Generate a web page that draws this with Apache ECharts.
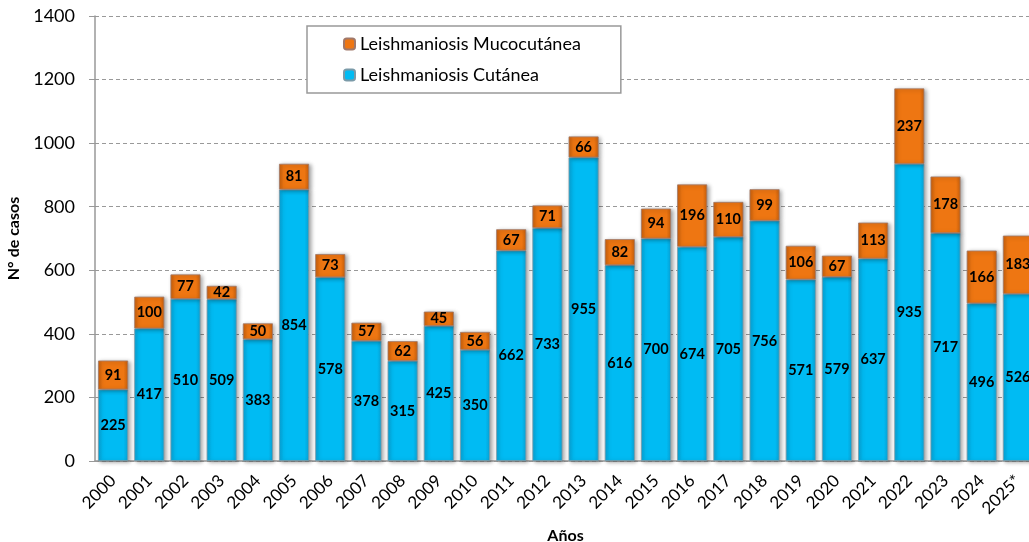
<!DOCTYPE html>
<html>
<head>
<meta charset="utf-8">
<script src="https://cdn.jsdelivr.net/npm/echarts@6/dist/echarts.min.js"></script>
<style>
  html, body { margin: 0; padding: 0; background: #fff; }
  #main { width: 1029px; height: 542px; }
</style>
</head>
<body>
<div id="main"></div>
<script>
    // datos
    var years = ['2000','2001','2002','2003','2004','2005','2006','2007','2008','2009','2010','2011','2012',
                 '2013','2014','2015','2016','2017','2018','2019','2020','2021','2022','2023','2024','2025*'];
    var cutanea = [225,417,510,509,383,854,578,378,315,425,350,662,733,955,616,700,674,705,756,571,579,637,935,717,496,526];
    var mucocutanea = [91,100,77,42,50,81,73,57,62,45,56,67,71,66,82,94,196,110,99,106,67,113,237,178,166,183];
    var yTicks = [0, 200, 400, 600, 800, 1000, 1200, 1400];

    var font = 'Lato, "Open Sans", sans-serif';

    function grad(edge, mid) {
        return new echarts.graphic.LinearGradient(0, 0, 1, 0, [
            {offset: 0, color: edge},
            {offset: 0.15, color: mid},
            {offset: 0.85, color: mid},
            {offset: 1, color: edge}
        ]);
    }

    var myChart = echarts.init(document.getElementById('main'));
    var option = {
        animation: false,
        backgroundColor: '#fff',
        grid: {
            left: 95,
            top: 16,
            width: 941,
            height: 445,
            outerBoundsMode: 'none'
        },
        legend: {
            data: ['Leishmaniosis Mucocutánea', 'Leishmaniosis Cutánea'],
            orient: 'vertical',
            left: 307,
            top: 26,
            padding: [9, 40, 9, 36],
            itemGap: 13,
            itemWidth: 11,
            itemHeight: 11,
            backgroundColor: '#fff',
            borderColor: '#999',
            borderWidth: 1.5,
            textStyle: {fontFamily: font, fontSize: 18, color: '#000'}
        },
        xAxis: {
            type: 'category',
            data: years,
            name: 'Años',
            nameLocation: 'middle',
            nameGap: 67,
            nameTextStyle: {fontFamily: font, fontSize: 16, fontWeight: 'bold', color: '#000'},
            axisLine: {lineStyle: {color: '#999', width: 1.5}},
            axisTick: {show: false},
            axisLabel: {rotate: 45, fontFamily: font, fontSize: 17, color: '#000', margin: 17, interval: 0}
        },
        yAxis: {
            type: 'value',
            min: yTicks[0],
            max: yTicks[yTicks.length - 1],
            interval: 200,
            name: 'N° de casos',
            nameLocation: 'middle',
            nameGap: 70,
            nameTextStyle: {fontFamily: font, fontSize: 16, fontWeight: 'bold', color: '#000'},
            axisLine: {show: true, lineStyle: {color: '#999', width: 1.5}},
            axisTick: {show: true, length: 6, lineStyle: {color: '#999'}},
            axisLabel: {
                fontFamily: font, fontSize: 18, color: '#000', margin: 20,
                formatter: function (v) { return String(v); }
            },
            splitLine: {lineStyle: {color: '#999', type: [4, 3]}}
        },
        series: [
            {
                name: 'Leishmaniosis Cutánea',
                type: 'bar',
                stack: 'total',
                barWidth: '83%',
                data: cutanea,
                itemStyle: {
                    color: grad('#0aa3d6', '#00bbf3'),
                    borderColor: '#7a9aa8',
                    borderWidth: 0.8,
                    shadowColor: 'rgba(0,0,0,0.35)',
                    shadowBlur: 4,
                    shadowOffsetX: 2,
                    shadowOffsetY: 1
                },
                label: {show: true, position: 'inside', fontFamily: font, fontSize: 14.5, fontWeight: 'bold', color: '#000'}
            },
            {
                name: 'Leishmaniosis Mucocutánea',
                type: 'bar',
                stack: 'total',
                data: mucocutanea,
                itemStyle: {
                    color: grad('#c85f0b', '#ee7612'),
                    borderColor: '#a0786a',
                    borderWidth: 0.8,
                    shadowColor: 'rgba(0,0,0,0.35)',
                    shadowBlur: 4,
                    shadowOffsetX: 2,
                    shadowOffsetY: 1
                },
                label: {show: true, position: 'inside', fontFamily: font, fontSize: 14.5, fontWeight: 'bold', color: '#000'}
            }
        ]
    };
    myChart.setOption(option);
</script>
</body>
</html>
